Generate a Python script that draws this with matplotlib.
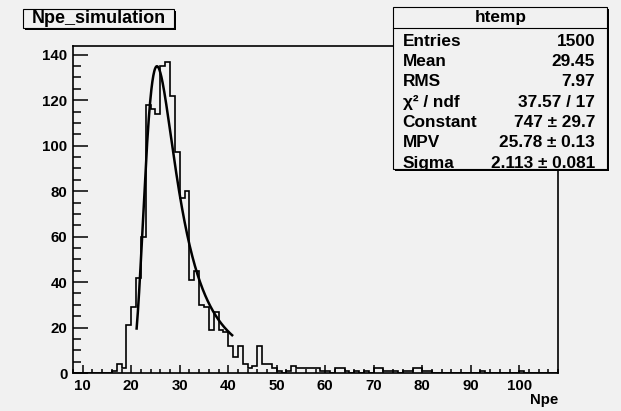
import numpy as np
import matplotlib
matplotlib.use("Agg")
import matplotlib.pyplot as plt
from matplotlib.patches import Rectangle
from matplotlib.ticker import MultipleLocator

# ---- histogram data: 100 bins of width 1 starting at Npe = 8 ----
x_low = 8
bin_width = 1
counts = [
    0, 0, 0, 0, 0, 0, 0, 0,                 # 8-15
    1, 4, 2, 21, 29, 42, 60, 118, 116, 114,   # 16-25
    135, 137, 122, 97, 77, 80, 41, 45, 30, 29,  # 26-35
    19, 27, 19, 18, 12, 7, 12, 4, 2, 3,       # 36-45
    12, 4, 4, 2, 1, 0, 1, 3, 2, 2,            # 46-55
    2, 2, 2, 1, 1, 0, 2, 2, 1, 0,             # 56-65
    1, 0, 1, 0, 2, 2, 1, 1, 1, 0,             # 66-75
    1, 1, 2, 2, 1, 1, 0, 0, 0, 0,             # 76-85
    0, 0, 0, 0, 0, 0, 1, 0, 0, 0,             # 86-95
    0, 0, 0, 0, 1, 0, 0, 0, 0, 0,             # 96-105
    0, 0,                                     # 106-107
]

# ---- statistics and Landau fit results ----
hist_name = "htemp"
title = "Npe_simulation"
x_title = "Npe"
entries = 1500
mean = 29.45
rms = 7.97
chi2 = 37.57
ndf = 17
fit_const, fit_const_err = 747, 29.7
fit_mpv, fit_mpv_err = 25.78, 0.13
fit_sigma, fit_sigma_err = 2.113, 0.081
fit_range = (21.1, 41.0)

x_ticks = [10, 20, 30, 40, 50, 60, 70, 80, 90, 100]
y_ticks = [0, 20, 40, 60, 80, 100, 120, 140]

BG = "#f1f1f1"
FONT = "Liberation Sans"
W, H = 621, 411


def landau_density(lam):
    """Landau density (not normalised by sigma) via its integral form."""
    lam = np.atleast_1d(np.asarray(lam, dtype=float))[:, None]
    t = np.linspace(1e-9, 50.0, 20001)[None, :]
    f = np.exp(-t * np.log(t) - lam * t) * np.sin(np.pi * t)
    return np.trapezoid(f, t, axis=1) / np.pi


edges = x_low + bin_width * np.arange(len(counts) + 1)

fig = plt.figure(figsize=(W / 100, H / 100), dpi=100, facecolor=BG)
ax = fig.add_axes([73 / W, 1 - 373 / H, (558 - 73) / W, (373 - 46) / H])
ax.set_facecolor(BG)

ax.stairs(counts, edges, color="black", lw=1.2, baseline=0)

xf = np.linspace(fit_range[0], fit_range[1], 300)
yf = fit_const * landau_density((xf - fit_mpv) / fit_sigma)
ax.plot(xf, yf, color="black", lw=1.8, solid_capstyle="butt")

ax.set_xlim(edges[0], edges[-1])
ax.set_ylim(0, 1.05 * max(counts))

ax.set_xticks(x_ticks)
ax.set_yticks(y_ticks)
ax.xaxis.set_minor_locator(MultipleLocator(2))
ax.yaxis.set_minor_locator(MultipleLocator(5))
ax.tick_params(axis="x", which="major", direction="in", length=5.8, width=1.1,
               pad=4.5, top=False)
ax.tick_params(axis="x", which="minor", direction="in", length=3.1, width=1.1,
               top=False)
ax.tick_params(axis="y", which="major", direction="in", length=10.8, width=1.1,
               pad=4, right=False)
ax.tick_params(axis="y", which="minor", direction="in", length=5.8, width=1.1,
               right=False)
for lab in ax.get_xticklabels() + ax.get_yticklabels():
    lab.set_fontfamily(FONT)
    lab.set_fontweight("bold")
    lab.set_fontsize(10.8)
for sp in ax.spines.values():
    sp.set_linewidth(1.2)

# ---- overlay in pixel coordinates for the title box, stats box and axis title ----
ov = fig.add_axes([0, 0, 1, 1], zorder=5)
ov.set_xlim(0, W)
ov.set_ylim(H, 0)
ov.axis("off")
ov.patch.set_alpha(0)

txt = dict(family=FONT, fontweight="bold", color="black")

ov.text(558, 404, x_title, ha="right", va="baseline", fontsize=10.8, **txt)

# title box with shadow
ov.add_patch(Rectangle((24.7, 11.3), 151, 18.4, facecolor="black", lw=0))
ov.add_patch(Rectangle((22.7, 9.3), 151, 18.4, facecolor=BG, edgecolor="black", lw=0.8))
ov.text(99, 18.6, title, ha="center", va="center", fontsize=13, **txt)

# statistics box with shadow
bx, by, bw, bh = 393.3, 7.3, 214, 162.2
ov.add_patch(Rectangle((bx + 2, by + 2), bw, bh, facecolor="black", lw=0))
ov.add_patch(Rectangle((bx, by), bw, bh, facecolor=BG, edgecolor="black", lw=0.8))
ov.plot([bx, bx + bw], [28.3, 28.3], color="black", lw=0.8)
ov.text(bx + bw / 2, 17.8, hist_name, ha="center", va="center", fontsize=12.4, **txt)

rows = [
    ("Entries", f"{entries}"),
    ("Mean", f"{mean:.2f}"),
    ("RMS", f"{rms:.2f}"),
    ("χ² / ndf", f"{chi2:.2f} / {ndf}"),
    ("Constant", f"{fit_const} ± {fit_const_err}"),
    ("MPV", f"{fit_mpv:.2f} ± {fit_mpv_err:.2f}"),
    ("Sigma", f"{fit_sigma:.3f} ± {fit_sigma_err:.3f}"),
]
for i, (name, val) in enumerate(rows):
    yb = 45.7 + i * 20.35
    ov.text(402.7, yb, name, ha="left", va="baseline", fontsize=12.4, **txt)
    ov.text(595, yb, val, ha="right", va="baseline", fontsize=12.4, **txt)

fig.savefig("out.png", dpi=100, facecolor=BG)
